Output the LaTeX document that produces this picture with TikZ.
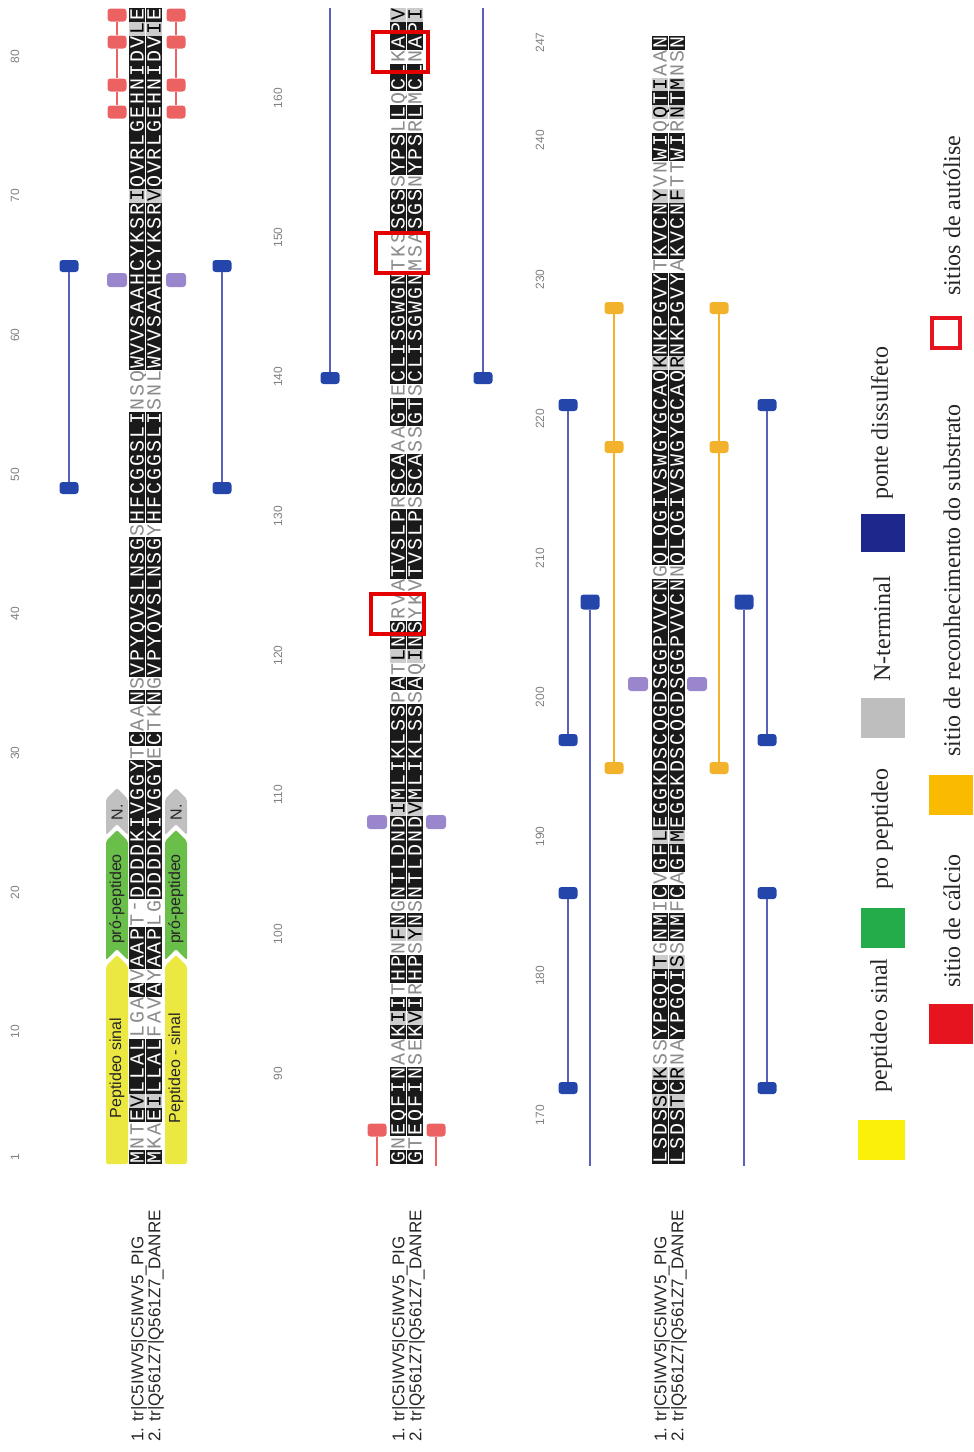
\documentclass[tikz,border=0pt]{standalone}
\usepackage{fontspec}
\setmainfont{Liberation Serif}
\setsansfont{Liberation Sans}
\newfontfamily\resfont{Liberation Mono}

\definecolor{featyellow}{RGB}{236,232,66}
\definecolor{featgreen}{RGB}{106,190,74}
\definecolor{featgray}{RGB}{192,192,192}
\definecolor{ssblue}{RGB}{36,70,170}
\definecolor{sslinecol}{RGB}{88,96,186}
\definecolor{catpurple}{RGB}{154,134,204}
\definecolor{capink}{RGB}{236,98,98}
\definecolor{subsorange}{RGB}{242,178,44}
\definecolor{autored}{RGB}{228,0,0}
\definecolor{resblack}{RGB}{26,26,26}
\definecolor{resgray}{RGB}{204,204,204}
\definecolor{lgyellow}{RGB}{250,240,10}
\definecolor{lggreen}{RGB}{36,172,74}
\definecolor{lggray}{RGB}{190,190,190}
\definecolor{lgblue}{RGB}{30,40,140}
\definecolor{lgred}{RGB}{230,20,30}
\definecolor{lgorange}{RGB}{250,186,0}

\tikzset{
  res/.style={rotate=90, inner sep=0pt, minimum width=7.05pt, minimum height=8.1pt, text depth=0pt, font=\resfont\fontsize{10}{10}\selectfont},
  ruler/.style={rotate=90, inner sep=0pt, text=black!50, font=\sffamily\fontsize{6}{6}\selectfont},
  seqname/.style={rotate=90, anchor=west, inner sep=0pt, text=black!85, font=\sffamily\fontsize{8.5}{9}\selectfont},
  feattext/.style={rotate=90, inner sep=0pt, text=black!85, font=\sffamily\fontsize{8}{9}\selectfont},
  feat/.style={rounded corners=1pt},
  mk/.style={rounded corners=1.5pt, minimum width=9.5pt, minimum height=6pt, inner sep=0pt},
  ssmk/.style={mk, fill=ssblue},
  catmk/.style={mk, fill=catpurple, minimum width=10pt, minimum height=7pt},
  camk/.style={mk, fill=capink, minimum height=6.5pt},
  submk/.style={mk, fill=subsorange},
  sslink/.style={draw=sslinecol, line width=0.6pt},
  calink/.style={draw=capink, line width=0.6pt},
  sublink/.style={draw=subsorange, line width=0.6pt},
  autobox/.style={draw=autored, line width=2pt},
  lgbox/.style={minimum width=22pt, minimum height=20pt, inner sep=0pt},
  lgtext/.style={rotate=90, anchor=west, inner sep=0pt, text=black!85, font=\fontsize{12}{14}\selectfont}
}

\makeatletter
\newcount\rpos
\def\simlist{,IV,VI,IL,LI,IM,MI,LV,VL,LM,ML,VM,MV,FY,YF,FW,WF,YW,WY,KR,RK,DE,ED,ST,TS,NQ,QN,}
\newcommand\rescell[2]{%
  \ifx#1#2\def\cfill{resblack}\def\ctext{white}%
  \else
    \edef\tmp{\noexpand\in@{,#1#2,}{\simlist}}\tmp
    \ifin@\def\cfill{resgray}\def\ctext{black}%
    \else\def\cfill{white}\def\ctext{black!45}\fi
  \fi
  \pgfmathsetmacro\ycell{1157-(\rpos-\bstart)*13.93}%
  \node[res, fill=\cfill, text=\ctext] (a\the\rpos) at (\xa,\ycell) {#1};
  \node[res, fill=\cfill, text=\ctext] (b\the\rpos) at (\xb,\ycell) {#2};
  \global\advance\rpos by 1 }
\def\reswalk#1#2\@nil#3#4\@nil{%
  \rescell{#1}{#3}%
  \ifx\relax#2\relax\else\reswalk#2\@nil#4\@nil\fi}
\newcommand\alignrow[5]{%
  \global\rpos=#1 \def\bstart{#1}\def\xa{#2}\def\xb{#3}%
  \reswalk#4\@nil#5\@nil}
\makeatother

\begin{document}
\begin{tikzpicture}[x=0.5pt, y=-0.5pt]
\useasboundingbox (0,0) rectangle (974,1452);

% rulers
\foreach \c in {1,10,20,...,80} \node[ruler] (ra\c) at (15,{1157-(\c-1)*13.93}) {\c};
\foreach \c in {90,100,...,160} \node[ruler] (rb\c) at (278,{1157-(\c-84)*13.93}) {\c};
\foreach \c in {170,180,...,240,247} \node[ruler] (rc\c) at (540,{1157-(\c-167)*13.93}) {\c};

% feature arrows
\foreach \fx/\ytxt in {117/Peptideo sinal, 176/Peptideo - sinal} {
  \fill[featyellow, feat] (\fx-11,1164) -- (\fx+11,1164) -- (\fx+11,966) -- (\fx,955) -- (\fx-11,966) -- cycle;
  \fill[featgreen, feat] (\fx-11,960) -- (\fx,949) -- (\fx+11,960) -- (\fx+11,841) -- (\fx,830) -- (\fx-11,841) -- cycle;
  \fill[featgray, feat] (\fx-11,835) -- (\fx,824) -- (\fx+11,835) -- (\fx+11,799) -- (\fx,788) -- (\fx-11,799) -- cycle;
  \node[feattext] (sig\fx) at (\fx,1068) {\ytxt};
  \node[feattext] (pro\fx) at (\fx,899) {pró-peptideo};
  \node[feattext] (nt\fx) at (\fx,812) {N.};
}

% alignment
\alignrow{1}{137}{154}{MNTEVLLALLGAAVAAPT-DDDDKIVGGYTCAANSVPYQVSLNSGSHFCGGSLINSQWVVSAAHCYKSRIQVRLGEHNIDVLE}{MKAEILLALFAVAYAAPLGDDDDKIVGGYECTKNGVPYQVSLNSGYHFCGGSLISNLWVVSAAHCYKSRVQVRLGEHNIDVIE}
\alignrow{84}{398}{415}{GNEQFINAAKIITHPNFNGNTLDNDIMLIKLSSPATLNSRVATVSLPRSCAAAGTECLISGWGNTKSSGSSYPSLLQCLKAPV}{GTEQFINSEKVIRHPSYNSNTLDNDVMLIKLSSSAQINSYKVTVSLPSSCASSGTSCLISGWGNMSASGSNYPSRLMCLNAPI}
\alignrow{167}{660}{677}{LSDSSCKSSYPGQITGNMICVGFLEGGKDSCQGDSGGPVVCNGQLQGIVSWGYGCAQKNKPGVYTKVCNYVNWIQQTIAAN}{LSDSTCRNAYPGQISSNMFCAGFMEGGKDSCQGDSGGPVVCNNQLQGIVSWGYGCAQRNKPGVYAKVCNFTTWIRNTMNSN}

% sequence names
\foreach \bx/\bn in {139/1, 400/2, 662/3} {
  \node[seqname] (na\bn) at (\bx,1442) {1. tr|C5IWV5|C5IWV5\_PIG};
  \node[seqname] (nb\bn) at (\bx+17,1442) {2. tr|Q561Z7|Q561Z7\_DANRE};
}

% block 1 sites
\foreach \sx/\sn in {69/l, 222/r} {
  \node[ssmk] (ssa\sn) at (\sx,266) {};
  \node[ssmk] (ssb\sn) at (\sx,488) {};
  \draw[sslink] (ssa\sn) -- (ssb\sn);
}
\foreach \sx/\sn in {117/l, 176/r} {
  \node[catmk] (his\sn) at (\sx,280) {};
  \node[camk] (caa\sn) at (\sx,15) {};
  \node[camk] (cab\sn) at (\sx,42) {};
  \node[camk] (cac\sn) at (\sx,85) {};
  \node[camk] (cad\sn) at (\sx,112) {};
  \draw[calink] (caa\sn) -- (cab\sn) -- (cac\sn) -- (cad\sn);
}

% block 2 sites
\foreach \sx/\sn in {377/l, 436/r} {
  \node[camk] (cae\sn) at (\sx,1130) {};
  \coordinate (caend\sn) at (\sx,1166);
  \draw[calink] (cae\sn) -- (caend\sn);
  \node[catmk] (asp\sn) at (\sx,822) {};
}
\foreach \sx/\sn in {330/l, 483/r} {
  \node[ssmk] (ssc\sn) at (\sx,378) {};
  \coordinate (sstop\sn) at (\sx,8);
  \draw[sslink] (ssc\sn) -- (sstop\sn);
}
\draw[autobox] (373,32) rectangle (428,72);
\draw[autobox] (376,233) rectangle (428,273);
\draw[autobox] (371,594) rectangle (424,634);

% block 3 sites
\foreach \sx/\tx/\sn in {568/590/l, 767/744/r} {
  \node[ssmk] (ssd\sn) at (\sx,405) {};
  \node[ssmk] (sse\sn) at (\sx,740) {};
  \node[ssmk] (ssf\sn) at (\sx,893) {};
  \node[ssmk] (ssg\sn) at (\sx,1088) {};
  \draw[sslink] (ssd\sn) -- (sse\sn);
  \draw[sslink] (ssf\sn) -- (ssg\sn);
  \node[ssmk, minimum height=7.5pt] (ssh\sn) at (\tx,602) {};
  \coordinate (ssbot\sn) at (\tx,1166);
  \draw[sslink] (ssh\sn) -- (ssbot\sn);
}
\foreach \sx/\sn in {638/l, 697/r} \node[catmk] (ser\sn) at (\sx,684) {};
\foreach \sx/\sn in {614/l, 719/r} {
  \node[submk] (sba\sn) at (\sx,308) {};
  \node[submk] (sbb\sn) at (\sx,447) {};
  \node[submk] (sbc\sn) at (\sx,768) {};
  \draw[sublink] (sba\sn) -- (sbb\sn) -- (sbc\sn);
}

% legend
\node[lgbox, fill=lgyellow, minimum width=23.5pt] (lg1) at (881,1140) {};
\node[lgtext] (lt1) at (881,1093) {peptideo sinal};
\node[lgbox, fill=lggreen] (lg2) at (883,928) {};
\node[lgtext] (lt2) at (882,890) {pro peptideo};
\node[lgbox, fill=lggray] (lg3) at (883,718) {};
\node[lgtext] (lt3) at (882,682) {N-terminal};
\node[lgbox, fill=lgblue, minimum height=19pt] (lg4) at (883,533) {};
\node[lgtext] (lt4) at (882,500) {ponte dissulfeto};
\node[lgbox, fill=lgred] (lg5) at (951,1024) {};
\node[lgtext] (lt5) at (952,988) {sitio de cálcio};
\node[lgbox, fill=lgorange] (lg6) at (951,795) {};
\node[lgtext] (lt6) at (952,757) {sitio de reconhecimento do substrato};
\node[lgbox, draw=lgred, line width=2pt, minimum width=14pt, minimum height=15pt] (lg7) at (946,333) {};
\node[lgtext] (lt7) at (952,296) {sitios de autólise};
\end{tikzpicture}
\end{document}
